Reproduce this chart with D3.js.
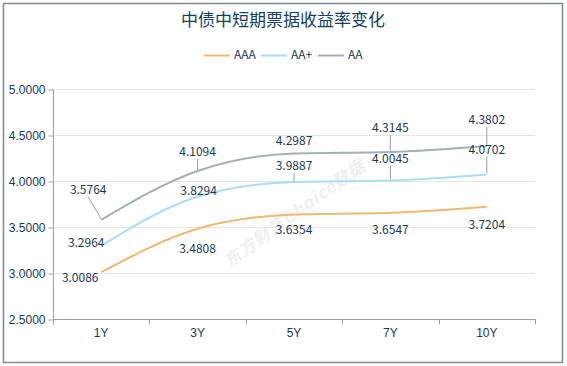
<!DOCTYPE html>
<html><head><meta charset="utf-8">
<script src="https://cdn.jsdelivr.net/npm/d3@7"></script>
<style>body{margin:0;background:#fff;}svg{display:block;font-family:"Microsoft YaHei","Noto Sans CJK SC","Noto Sans",sans-serif;}</style>
</head><body><svg id="c" width="567" height="366"></svg>
<script>
const title = "中债中短期票据收益率变化";
const categories = ["1Y","3Y","5Y","7Y","10Y"];
const seriesNames = ["AAA","AA+","AA"];
const aaa = [3.0086,3.4808,3.6354,3.6547,3.7204];
const aaPlus = [3.2964,3.8294,3.9887,4.0045,4.0702];
const aa = [3.5764,4.1094,4.2987,4.3145,4.3802];
const yTicks = [2.5,3.0,3.5,4.0,4.5,5.0];
const colors = ["#f2b872","#a9ddf0","#a3b0b6"];

// label layout: [dx, dy of text center relative to point, leader?]
const labelLayout = [
  [[-21,6,false],[0,20,false],[0,15,false],[0,17,false],[0,18,false]],
  [[-15,-3,false],[1,-6,false],[0,-16,true],[0,-22,true],[0,-25,true]],
  [[-13,-30,true],[0,-19,true],[0,-13,false],[0,-24,true],[0,-26,true]]
];

const svg = d3.select("#c");
svg.append("rect").attr("x",3.5).attr("y",3.5).attr("width",559).attr("height",359)
  .attr("fill","#fff").attr("stroke","#7d8d96").attr("stroke-width",1.5);

svg.append("text").attr("x",283).attr("y",26).attr("text-anchor","middle")
  .attr("font-size",17).attr("fill","#16405c").text(title);

const x = d3.scaleBand().domain(categories).range([53,535]);
const y = d3.scaleLinear().domain([2.5,5]).range([319,89]);

// watermark
svg.append("text").attr("transform","translate(298,218) rotate(-36)")
  .attr("text-anchor","middle").attr("font-size",17).attr("font-weight","bold")
  .attr("font-style","italic").attr("fill","#eef0f2").attr("letter-spacing",1)
  .text("东方财富Choice数据");

// grid
svg.append("g").selectAll("line").data(yTicks.slice(1)).join("line")
  .attr("x1",53).attr("x2",535).attr("y1",d=>y(d)+0.5).attr("y2",d=>y(d)+0.5)
  .attr("stroke","#e6e6e6");

const axisColor = "#95a3ab";
const yAxis = svg.append("g").attr("transform","translate(53.5,0.5)")
  .call(d3.axisLeft(y).tickValues(yTicks).tickFormat(d3.format(".4f")).tickSize(5).tickPadding(3));
yAxis.select(".domain").attr("stroke",axisColor).attr("d","M0,89V319");
yAxis.selectAll(".tick line").attr("stroke",axisColor);
yAxis.selectAll("text").attr("font-size",12).attr("fill","#1a3950").attr("font-family","inherit");

const xAxis = svg.append("g").attr("transform","translate(0,319.5)")
  .call(d3.axisBottom(x).tickSize(0).tickPadding(9));
xAxis.select(".domain").attr("stroke",axisColor).attr("d","M53.5,0H535.5");
xAxis.selectAll("text").attr("font-size",12).attr("fill","#1a3950").attr("font-family","inherit");
const bounds = categories.map(c=>x(c)).concat([x.range()[1]]);
xAxis.selectAll(".bt").data(bounds).join("line").attr("class","bt")
  .attr("x1",d=>Math.round(d)+0.5).attr("x2",d=>Math.round(d)+0.5).attr("y1",0).attr("y2",5)
  .attr("stroke",axisColor);

const cx = c => x(c)+x.bandwidth()/2;
const line = d3.line().x((d,i)=>cx(categories[i])).y(d=>y(d)).curve(d3.curveMonotoneX);
const allSeries = [aaa,aaPlus,aa];
allSeries.forEach((s,k)=>{
  svg.append("path").attr("d",line(s)).attr("fill","none")
    .attr("stroke",colors[k]).attr("stroke-width",2);
});
allSeries.forEach((s,k)=>{
  s.forEach((v,i)=>{
    const px = cx(categories[i]), py = y(v);
    const [dx,dy,lead] = labelLayout[k][i];
    if(lead){
      svg.append("line").attr("x1",px+dx).attr("y1",py+dy+7)
        .attr("x2",px).attr("y2",py-1)
        .attr("stroke","#9aa0a4").attr("stroke-width",1);
    }
    svg.append("text").attr("x",px+dx).attr("y",py+dy).attr("dy","0.35em")
      .attr("text-anchor","middle").attr("font-size",12).attr("fill","#1a3950")
      .text(v.toFixed(4));
  });
});

// legend
const legX = [204,261,318];
seriesNames.forEach((n,k)=>{
  svg.append("line").attr("x1",legX[k]).attr("x2",legX[k]+26).attr("y1",55.5).attr("y2",55.5)
    .attr("stroke",colors[k]).attr("stroke-width",2);
  svg.append("text").attr("x",legX[k]+30).attr("y",55).attr("dy","0.35em")
    .attr("font-size",12).attr("fill","#1a3950").text(n);
});
</script></body></html>
